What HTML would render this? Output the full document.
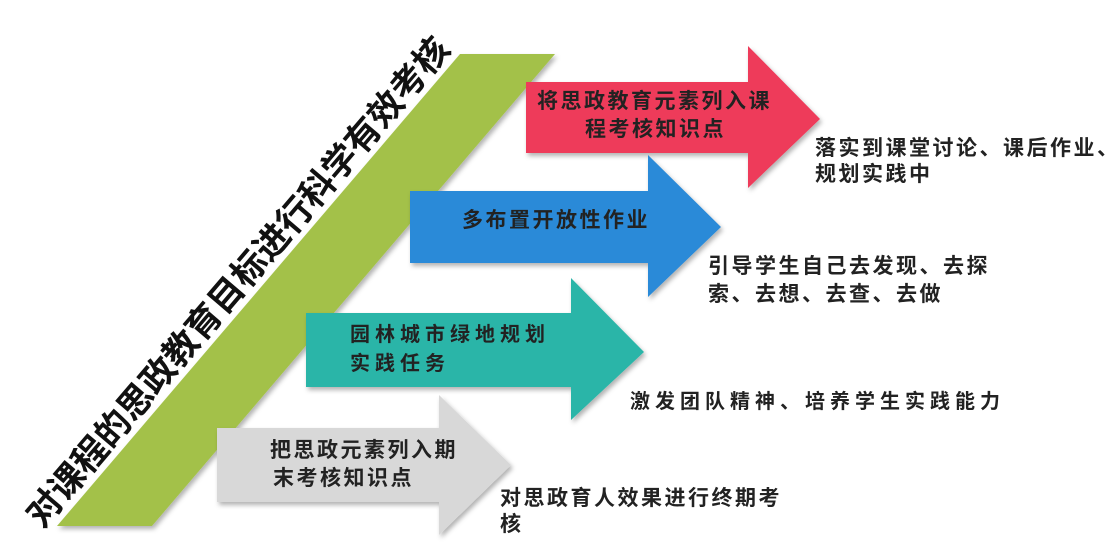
<!DOCTYPE html>
<html><head><meta charset="utf-8"><style>
html,body{margin:0;padding:0;background:#fff;}
svg{display:block;}
text{font-family:"Liberation Sans","Noto Sans CJK SC",sans-serif;}
.sf{font-family:"Liberation Serif","Noto Serif CJK SC",serif;}
</style></head><body>
<svg width="1117" height="545" viewBox="0 0 1117 545" xmlns="http://www.w3.org/2000/svg">
<defs>
<filter id="sh" x="-10%" y="-10%" width="130%" height="130%">
<feDropShadow dx="2" dy="3" stdDeviation="2.5" flood-color="#000" flood-opacity="0.3"/>
</filter>
</defs>
<polygon points="460,54 555,54 152,526 57,526" fill="#a3c14a" filter="url(#sh)"/>
<text x="238" y="294" font-size="35" font-weight="bold" fill="#111" stroke="#fff" stroke-width="4" paint-order="stroke" text-anchor="middle" transform="rotate(-49.5 238 282)">对课程的思政教育目标进行科学有效考核</text>

<polygon points="526,82 748,82 748,46 820,119 748,188 748,153 526,153" fill="#ee3a5a" filter="url(#sh)"/>
<polygon points="410,191 648,191 648,155 721,227 648,297 648,263 410,263" fill="#2a8ad8" filter="url(#sh)"/>
<polygon points="306,313 571,313 571,278 644,352 571,420 571,387 306,387" fill="#2bb5a8" filter="url(#sh)"/>
<polygon points="217,428 439,428 439,395 511,465 439,535 439,502 217,502" fill="#d8d8d8" filter="url(#sh)"/>

<g class="sf" font-size="21" fill="#222" font-weight="bold" letter-spacing="2.5">
<text x="537" y="108">将思政教育元素列入课</text>
<text x="585" y="136">程考核知识点</text>
<text x="462" y="227">多布置开放性作业</text>
<text x="270" y="457">把思政元素列入期</text>
<text x="273" y="485">末考核知识点</text>
<text x="815" y="155">落实到课堂讨论、课后作业、</text>
<text x="815" y="181">规划实践中</text>
<text x="708" y="273">引导学生自己去发现、去探</text>
<text x="708" y="301">索、去想、去查、去做</text>
<text x="500" y="505">对思政育人效果进行终期考</text>
<text x="500" y="531">核</text>
</g>
<g font-size="20" fill="#222" font-weight="bold" letter-spacing="5">
<text x="350" y="341">园林城市绿地规划</text>
<text x="350" y="370">实践任务</text>
</g>
<text x="630" y="408" font-size="20" font-weight="bold" fill="#222" letter-spacing="5">激发团队精神、培养学生实践能力</text>
</svg>
</body></html>
